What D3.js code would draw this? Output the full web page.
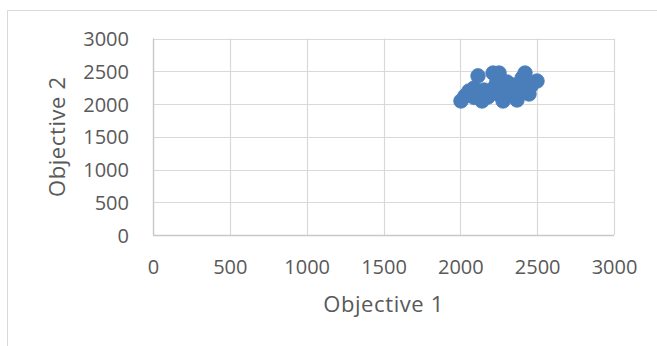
<!DOCTYPE html>
<html>
<head>
<meta charset="utf-8">
<script src="https://cdn.jsdelivr.net/npm/d3@7"></script>
<style>
  html, body { margin: 0; padding: 0; background: #fff; }
  svg { display: block; font-family: "Open Sans", sans-serif; }
</style>
</head>
<body>
<svg id="chart" width="657" height="346"></svg>
<script>
// Objective values of each solution
const objective1 = [2004, 2030, 2056, 2089, 2115, 2141, 2154, 2213, 2252, 2219, 2258, 2278, 2323, 2343,
                    2369, 2388, 2402, 2421, 2447, 2460, 2499, 2304, 2180, 2122, 2090, 2235, 2290, 2330,
                    2410, 2200];
const objective2 = [2046, 2122, 2198, 2244, 2430, 2046, 2214, 2473, 2473, 2244, 2137, 2046, 2214, 2290,
                    2061, 2244, 2397, 2473, 2153, 2275, 2351, 2336, 2107, 2160, 2100, 2320, 2120, 2150,
                    2200, 2200];
const xTicks = [0, 500, 1000, 1500, 2000, 2500, 3000];
const yTicks = [0, 500, 1000, 1500, 2000, 2500, 3000];
const xTitle = "Objective 1";
const yTitle = "Objective 2";

const svg = d3.select("#chart");
const plot = { left: 153, right: 614, top: 38.5, bottom: 235 };
const textColor = "#595959";
const gridColor = "#d9d9d9";

// chart-area frame
svg.append("path")
  .attr("d", "M7.5,346 V10.5 H657")
  .attr("fill", "none")
  .attr("stroke", gridColor)
  .attr("stroke-width", 1);

const x = d3.scaleLinear().domain([0, 3000]).range([plot.left, plot.right]);
const y = d3.scaleLinear().domain([0, 3000]).range([plot.bottom, plot.top]);

// gridlines
svg.append("g")
  .selectAll("line")
  .data(yTicks)
  .join("line")
  .attr("x1", plot.left).attr("x2", plot.right)
  .attr("y1", d => Math.round(y(d)) + 0.5).attr("y2", d => Math.round(y(d)) + 0.5)
  .attr("stroke", gridColor).attr("stroke-width", 1.2);

svg.append("g")
  .selectAll("line")
  .data(xTicks)
  .join("line")
  .attr("x1", d => Math.round(x(d)) + 0.5).attr("x2", d => Math.round(x(d)) + 0.5)
  .attr("y1", plot.top).attr("y2", plot.bottom)
  .attr("stroke", gridColor).attr("stroke-width", 1.2);

// axis lines
svg.append("line")
  .attr("x1", plot.left).attr("x2", plot.right)
  .attr("y1", Math.round(y(0)) + 0.5).attr("y2", Math.round(y(0)) + 0.5)
  .attr("stroke", "#c8c8c8").attr("stroke-width", 1.3);
svg.append("line")
  .attr("x1", Math.round(x(0)) + 0.5).attr("x2", Math.round(x(0)) + 0.5)
  .attr("y1", plot.top).attr("y2", plot.bottom)
  .attr("stroke", "#c8c8c8").attr("stroke-width", 1.3);

// tick labels
const xAxis = d3.axisBottom(x).tickValues(xTicks).tickSize(0).tickPadding(0).tickFormat(d3.format("d"));
const gx = svg.append("g").attr("transform", `translate(0,${plot.bottom})`).call(xAxis);
gx.select(".domain").remove();
gx.selectAll("text")
  .attr("y", 39).attr("dy", null)
  .attr("fill", textColor)
  .style("font-size", "20px")
  .style("font-family", "'Open Sans', sans-serif");

const yAxis = d3.axisLeft(y).tickValues(yTicks).tickSize(0).tickPadding(0).tickFormat(d3.format("d"));
const gy = svg.append("g").attr("transform", `translate(${plot.left},0)`).call(yAxis);
gy.select(".domain").remove();
gy.selectAll("text")
  .attr("x", -24).attr("dy", "0.36em")
  .attr("fill", textColor)
  .style("font-size", "20px")
  .style("font-family", "'Open Sans', sans-serif");

// axis titles
svg.append("text")
  .attr("x", (plot.left + plot.right) / 2)
  .attr("y", 312)
  .attr("text-anchor", "middle")
  .attr("fill", textColor)
  .style("font-size", "22px")
  .style("letter-spacing", "0.6px")
  .text(xTitle);

svg.append("text")
  .attr("transform", `translate(65,${(plot.top + plot.bottom) / 2}) rotate(-90)`)
  .attr("text-anchor", "middle")
  .attr("fill", textColor)
  .style("font-size", "22px")
  .style("letter-spacing", "0.6px")
  .text(yTitle);

// solutions
const points = objective1.map((v, i) => ({ o1: v, o2: objective2[i] }));
svg.append("g")
  .selectAll("circle")
  .data(points)
  .join("circle")
  .attr("cx", d => x(d.o1))
  .attr("cy", d => y(d.o2))
  .attr("r", 7.3)
  .attr("fill", "#4a7ebb")
  .attr("stroke", "#4a7ebb")
  .attr("stroke-width", 0.75);
</script>
</body>
</html>
